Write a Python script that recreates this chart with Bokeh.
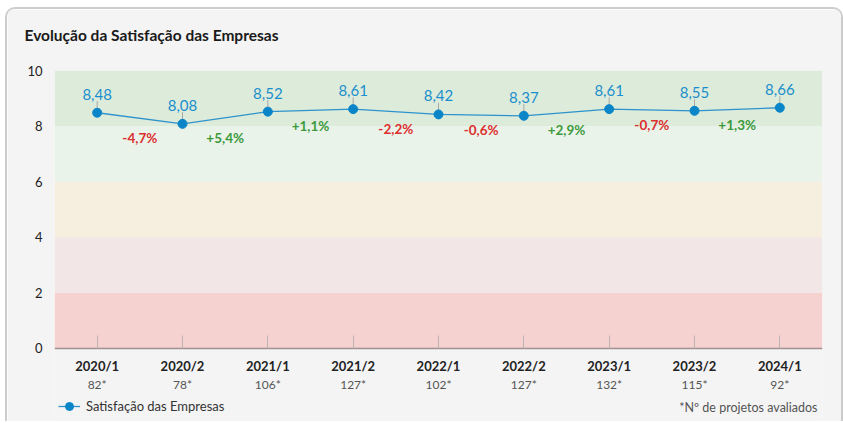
from bokeh.plotting import figure
from bokeh.models import (ColumnDataSource, BoxAnnotation, FixedTicker, LinearAxis,
                          Range1d, Legend, LegendItem, Label, Title)
from bokeh.embed import file_html
from bokeh.resources import INLINE

periods = ["2020/1", "2020/2", "2021/1", "2021/2", "2022/1", "2022/2", "2023/1", "2023/2", "2024/1"]
counts = [82, 78, 106, 127, 102, 127, 132, 115, 92]
values = [8.48, 8.08, 8.52, 8.61, 8.42, 8.37, 8.61, 8.55, 8.66]
changes = [-4.7, 5.4, 1.1, -2.2, -0.6, 2.9, -0.7, 1.3]
band_edges = [0, 2, 4, 6, 8, 10]
band_colors = ["#f5d1d0", "#f2e6e6", "#f6efdf", "#eaf3ea", "#ddebdb"]

FONT = "Lato"
xs = list(range(len(periods)))
fmt = lambda v: f"{v:.2f}".replace(".", ",")

# frame: 0..10 spans 278 px; extra room below 0 holds the axis labels, legend and note
p = figure(width=838, height=414, output_backend="svg", toolbar_location=None,
           title_location=None,
           x_range=Range1d(-0.5, len(periods) - 0.5), y_range=Range1d(-2.45, 10),
           min_border_left=47, min_border_right=23, min_border_top=61, min_border_bottom=7)
p.background_fill_color = "#f4f4f4"
p.border_fill_color = "#f4f4f4"
p.outline_line_color = None
p.grid.visible = False
p.styles = {"margin-left": "5px", "margin-top": "7px",
            "border-top": "2px solid #cccccc", "border-left": "2px solid #cccccc",
            "border-right": "2px solid #cccccc", "border-bottom": "none",
            "border-radius": "10px 10px 0 0", "overflow": "hidden"}

# spacer panel between frame and title, then the title itself
p.add_layout(Title(text=" ", text_font_size="1px", standoff=19), "above")
p.add_layout(Title(text="Evolução da Satisfação das Empresas", text_font=FONT,
                   text_font_size="15.5px", text_font_style="bold", text_color="#1a1a1a",
                   offset=-30, standoff=10), "above")

for i in range(len(band_colors)):
    p.add_layout(BoxAnnotation(bottom=band_edges[i], top=band_edges[i + 1],
                               fill_color=band_colors[i], fill_alpha=1, line_color=None, level="underlay"))

# y axis
p.yaxis.ticker = FixedTicker(ticks=band_edges)
p.yaxis.axis_line_color = None
p.yaxis.major_tick_line_color = None
p.yaxis.major_tick_out = 0
p.yaxis.major_tick_in = 0
p.yaxis.minor_tick_line_color = None
p.yaxis.major_label_text_font = FONT
p.yaxis.major_label_text_font_size = "13px"
p.yaxis.major_label_text_color = "#222222"
p.yaxis.major_label_standoff = 12

# x axis (periods), sitting on y = 0
xa = p.xaxis[0]
xa.fixed_location = 0
xa.ticker = FixedTicker(ticks=xs)
xa.major_label_overrides = {i: s for i, s in zip(xs, periods)}
xa.axis_line_color = "#a09090"
xa.axis_line_width = 1.5
xa.major_tick_in = 13
xa.major_tick_out = 0
xa.major_tick_line_color = "#bdb3b3"
xa.minor_tick_line_color = None
xa.major_label_text_font = FONT
xa.major_label_text_font_size = "13px"
xa.major_label_text_font_style = "bold"
xa.major_label_text_color = "#222222"
xa.major_label_standoff = 10

# second x axis (counts)
xa2 = LinearAxis(ticker=FixedTicker(ticks=xs), fixed_location=0,
                 major_label_overrides={i: f"{c}*" for i, c in zip(xs, counts)})
xa2.axis_line_color = None
xa2.major_tick_line_color = None
xa2.major_tick_in = 0
xa2.major_tick_out = 0
xa2.minor_tick_line_color = None
xa2.major_label_text_font = FONT
xa2.major_label_text_font_size = "12px"
xa2.major_label_text_color = "#555555"
xa2.major_label_standoff = 29
p.add_layout(xa2, "below")

src = ColumnDataSource(dict(x=xs, y=values, lab=[fmt(v) for v in values],
                            ytop=[v + 0.42 for v in values]))

p.segment(x0="x", y0="y", x1="x", y1="ytop", source=src, line_color="#a8a8a8", line_width=1)
ln = p.line("x", "y", source=src, line_color="#2e93cc", line_width=1.3)
sc = p.scatter("x", "y", source=src, size=9, fill_color="#0a86c8", line_color="#0a86c8")
p.text("x", "y", text="lab", source=src, text_align="center", text_baseline="bottom",
       y_offset=-13, text_font_size="15px", text_color="#1a8fcb", text_font={"value": FONT})

mid_x = [i + 0.5 for i in range(len(changes))]
low_y = [min(values[i], values[i + 1]) for i in range(len(changes))]
ch_lab = [("+" if c > 0 else "") + f"{c:.1f}".replace(".", ",") + "%" for c in changes]
ch_col = ["#3c9a3c" if c > 0 else "#dc2f2f" for c in changes]
csrc = ColumnDataSource(dict(x=mid_x, y=low_y, lab=ch_lab, col=ch_col))
p.text("x", "y", text="lab", source=csrc, text_align="center", text_baseline="middle",
       y_offset=14.5, text_font_size="13.5px", text_font_style="bold", text_color="col",
       text_font={"value": FONT})

legend = Legend(items=[LegendItem(label="Satisfação das Empresas", renderers=[ln, sc])],
                location=(4, 0), orientation="horizontal")
legend.background_fill_alpha = 0
legend.border_line_color = None
legend.label_text_font = FONT
legend.label_text_font_size = "13px"
legend.label_text_color = "#333333"
legend.glyph_width = 22
legend.label_standoff = 6
legend.padding = 0
legend.margin = 0
p.add_layout(legend, "center")

p.add_layout(Label(x=p.x_range.end, y=p.y_range.start, x_offset=-5, y_offset=2,
                   text="*Nº de projetos avaliados",
                   text_align="right", text_baseline="bottom", text_font=FONT,
                   text_font_size="12.5px", text_color="#555555"))

open("out.html", "w").write(file_html(p, INLINE))
